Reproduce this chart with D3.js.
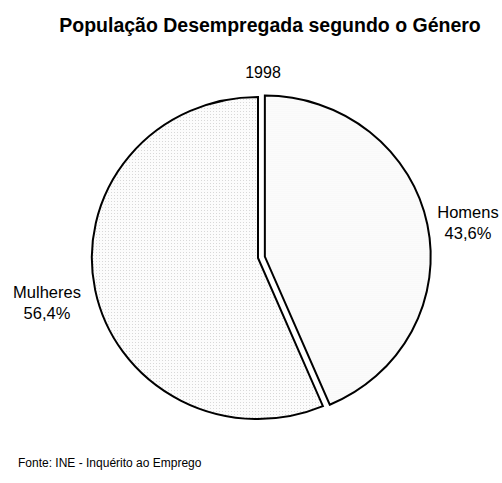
<!DOCTYPE html>
<html>
<head>
<meta charset="utf-8">
<script src="https://cdn.jsdelivr.net/npm/d3@7"></script>
<style>
  body { margin: 0; background: #fff; }
  text { font-family: "Liberation Sans", Arial, sans-serif; fill: #000; }
</style>
</head>
<body>
<div id="chart"></div>
<script>
var categories = ["Homens", "Mulheres"];
var values = [43.6, 56.4];
var valueLabels = ["43,6%", "56,4%"];
var year = "1998";

var width = 502, height = 483;
var cx = 258, cy = 258, rx = 166, ry = 161;

var svg = d3.select("#chart").append("svg")
    .attr("width", width)
    .attr("height", height);

var defs = svg.append("defs");
var inv = "scale(" + (1 / rx) + "," + (1 / ry) + ")";
// dotted fill for Mulheres
var dots = defs.append("pattern")
    .attr("id", "dots")
    .attr("patternUnits", "userSpaceOnUse")
    .attr("patternTransform", inv)
    .attr("width", 3).attr("height", 3);
dots.append("rect").attr("width", 3).attr("height", 3).attr("fill", "#fcfcfc");
dots.append("rect").attr("width", 1).attr("height", 1).attr("fill", "#d8d8d8");
// faint lines for Homens
var lines = defs.append("pattern")
    .attr("id", "hlines")
    .attr("patternUnits", "userSpaceOnUse")
    .attr("patternTransform", inv)
    .attr("width", 4).attr("height", 2);
lines.append("rect").attr("width", 4).attr("height", 2).attr("fill", "#fefefe");
lines.append("rect").attr("width", 4).attr("height", 1).attr("fill", "#f6f6f6");

var fills = ["url(#hlines)", "url(#dots)"];
var explode = [7, 0];

svg.append("text")
    .attr("x", 270).attr("y", 32)
    .attr("text-anchor", "middle")
    .attr("font-weight", "bold")
    .attr("font-size", 19.5)
    .text("População Desempregada segundo o Género");

svg.append("text")
    .attr("x", 263).attr("y", 78)
    .attr("text-anchor", "middle")
    .attr("font-size", 16)
    .text(year);

var pie = d3.pie().sort(null)(values);
var arc = d3.arc().innerRadius(0).outerRadius(1);

var g = svg.append("g").attr("transform", "translate(" + cx + "," + cy + ")");

g.selectAll("path")
    .data(pie)
    .enter().append("path")
    .attr("transform", function (d, i) {
        var mid = (d.startAngle + d.endAngle) / 2;
        var ox = explode[i] * Math.sin(mid), oy = -explode[i] * Math.cos(mid);
        return "translate(" + ox + "," + oy + ") scale(" + rx + "," + ry + ")";
    })
    .attr("d", arc)
    .attr("fill", function (d, i) { return fills[i]; })
    .attr("stroke", "#000")
    .attr("stroke-width", 2)
    .attr("vector-effect", "non-scaling-stroke")
    .attr("stroke-linejoin", "miter");

var labelPos = [[468, 218], [47, 298]];
categories.forEach(function (c, i) {
    var t = svg.append("text")
        .attr("x", labelPos[i][0]).attr("y", labelPos[i][1])
        .attr("text-anchor", "middle")
        .attr("font-size", 16.5);
    t.append("tspan").attr("x", labelPos[i][0]).text(c);
    t.append("tspan").attr("x", labelPos[i][0]).attr("dy", 21).text(valueLabels[i]);
});

svg.append("text")
    .attr("x", 18).attr("y", 467)
    .attr("font-size", 12)
    .text("Fonte: INE - Inquérito ao Emprego");
</script>
</body>
</html>
